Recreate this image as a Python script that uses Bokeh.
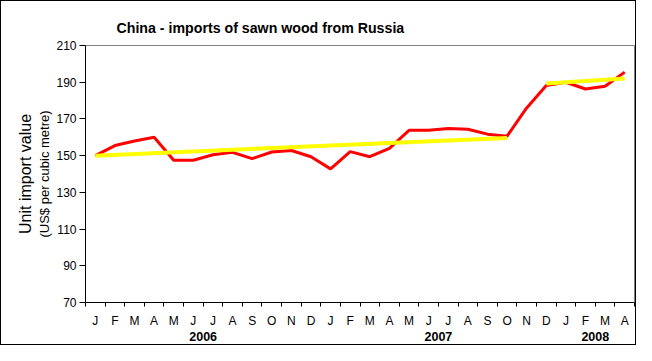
from bokeh.plotting import figure
from bokeh.models import Range1d, FixedTicker, LinearAxis
from bokeh.embed import file_html
from bokeh.resources import INLINE

# ---- data ----
month_labels = ["J", "F", "M", "A", "M", "J", "J", "A", "S", "O", "N", "D",
                "J", "F", "M", "A", "M", "J", "J", "A", "S", "O", "N", "D",
                "J", "F", "M", "A"]
year_labels = ["2006", "2007", "2008"]
year_month_counts = [12, 12, 4]
unit_value = [150.0, 155.5, 158.0, 160.0, 147.5, 147.5, 150.5, 151.8, 148.4, 152.0,
              152.8, 149.4, 142.8, 152.2, 149.4, 154.0, 163.8, 163.8, 164.8, 164.4,
              161.7, 160.6, 176.0, 188.2, 190.0, 186.3, 187.8, 195.5]
trend1_month_idx = [0, 21]
trend1_value = [150.0, 159.6]
trend2_month_idx = [23, 27]
trend2_value = [189.3, 192.0]
y_ticks = [70, 90, 110, 130, 150, 170, 190, 210]

FONT = "Liberation Sans"
n = len(month_labels)
xc = [i + 0.5 for i in range(n)]

p = figure(width=636, height=345, x_range=Range1d(0, n), y_range=Range1d(70, 210),
           output_backend="svg", toolbar_location=None,
           min_border_left=84, min_border_right=3, min_border_top=44, min_border_bottom=44,
           x_axis_type=None)
p.styles = {"border": "1px solid black"}
p.xgrid.visible = False
p.ygrid.visible = False
p.outline_line_color = "#808080"
p.outline_line_width = 1
p.background_fill_color = "white"
p.border_fill_color = "white"

# title
p.title.text = "China - imports of sawn wood from Russia"
p.title.align = "left"
p.title.text_font = FONT
p.title.text_font_size = "14.2px"
p.title.text_font_style = "bold"
p.title.text_color = "black"
p.title.offset = 31
p.title.standoff = 20

# y axis
ya = p.yaxis[0]
ya.ticker = FixedTicker(ticks=y_ticks)
ya.minor_tick_line_color = None
ya.major_tick_in = 0
ya.major_tick_out = 6
ya.axis_line_color = "black"
ya.major_tick_line_color = "black"
ya.major_label_text_font = FONT
ya.major_label_text_font_size = "12px"
ya.major_label_text_color = "black"
ya.major_label_standoff = 3

# y-axis titles as extra label-only axes
def label_axis(text, size, standoff):
    ax = LinearAxis(ticker=FixedTicker(ticks=[], minor_ticks=[]), axis_label=text)
    ax.axis_line_color = None
    ax.major_tick_line_color = None
    ax.minor_tick_line_color = None
    ax.major_tick_in = 0
    ax.major_tick_out = 0
    ax.major_label_standoff = 0
    ax.axis_label_standoff = standoff
    ax.axis_label_text_font = FONT
    ax.axis_label_text_font_size = size
    ax.axis_label_text_font_style = "normal"
    ax.axis_label_text_color = "black"
    return ax

p.add_layout(label_axis("(US$ per cubic metre)", "13px", 2), "left")
p.add_layout(label_axis("Unit import value", "16px", 0), "left")

# x axis: month letters, tick marks at boundaries
xa = LinearAxis(ticker=FixedTicker(ticks=xc, minor_ticks=list(range(n + 1))),
                major_label_overrides={x: m for x, m in zip(xc, month_labels)})
xa.major_tick_in = 0
xa.major_tick_out = 0
xa.minor_tick_in = 0
xa.minor_tick_out = 4
xa.minor_tick_line_color = "black"
xa.axis_line_color = "black"
xa.major_label_text_font = FONT
xa.major_label_text_font_size = "12px"
xa.major_label_text_color = "black"
xa.major_label_standoff = 7
p.add_layout(xa, "below")

# year labels
centers = []
start = 0
for c in year_month_counts:
    centers.append(start + c / 2)
    start += c
ya2 = LinearAxis(ticker=FixedTicker(ticks=centers, minor_ticks=[]),
                 major_label_overrides={x: y for x, y in zip(centers, year_labels)})
ya2.axis_line_color = None
ya2.major_tick_line_color = None
ya2.minor_tick_line_color = None
ya2.major_tick_in = 0
ya2.major_tick_out = 0
ya2.major_label_text_font = FONT
ya2.major_label_text_font_size = "12.5px"
ya2.major_label_text_font_style = "bold"
ya2.major_label_text_color = "black"
ya2.major_label_standoff = 1
p.add_layout(ya2, "below")

# series
p.line(xc, unit_value, line_color="#FF0000", line_width=3)
p.line([xc[i] for i in trend1_month_idx], trend1_value, line_color="#FFFF00", line_width=4)
p.line([xc[i] for i in trend2_month_idx], trend2_value, line_color="#FFFF00", line_width=4)

open("out.html", "w").write(file_html(p, INLINE))
